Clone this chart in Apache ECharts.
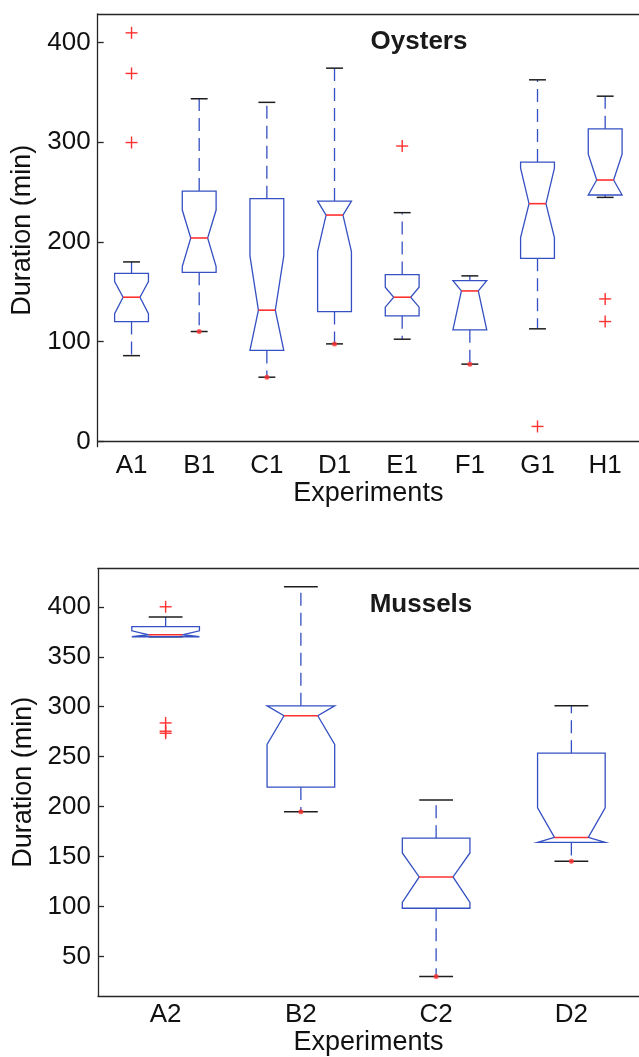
<!DOCTYPE html>
<html><head><meta charset="utf-8">
<script src="https://cdn.jsdelivr.net/npm/echarts@6/dist/echarts.min.js"></script>
<style>html,body{margin:0;padding:0;background:#fff}#c{width:639px;height:1057px}</style>
</head><body><div id="c"></div>
<script>
// ---- Data ----
const oysterCats = ['A1','B1','C1','D1','E1','F1','G1','H1'];
// each box: [lowerWhisker, Q1, notchLow, median, notchHigh, Q3, upperWhisker]
const oysterBoxes = [
  [86, 120.2, 128, 144.6, 160.3, 168.6, 180],
  [110.2, 169.6, 175.3, 204, 232, 251, 343.6],
  [64.4, 91.2, 91.2, 131.6, 186, 243.4, 340],
  [97.8, 130.2, 190.3, 227, 241, 241, 374.3],
  [102.5, 125.9, 134.6, 144.6, 154.6, 167.3, 229.4],
  [77.5, 111.9, 111.9, 150.9, 161.3, 161.3, 166],
  [112.9, 183.6, 204.3, 238.4, 274, 280.1, 362.6],
  [244.7, 247.1, 247.1, 262.1, 288.1, 313.5, 346.2]
];
const oysterOutliers = [[0,409.7],[0,369],[0,299.7],[4,296.2],[6,15],[7,142.9],[7,120.2]];
const oysterDots = [[1,110.2],[2,64.4],[3,97.8],[5,77.5]];
const oysterTicks = [0,100,200,300,400];

const musselCats = ['A2','B2','C2','D2'];
const musselBoxes = [
  [370, 370, 370, 372, 376, 380.2, 389.8],
  [194.9, 219.6, 262.4, 291, 300.9, 300.9, 420.1],
  [30.2, 98.4, 104.3, 129.7, 153.7, 168.5, 206.7],
  [145.5, 164.2, 164.2, 169.2, 198.8, 253.5, 300.9]
];
const musselOutliers = [[0,400],[0,283.8],[0,275.5],[0,273.5]];
const musselDots = [[1,194.9],[2,30.2],[3,145.5]];
const musselTicks = [50,100,150,200,250,300,350,400];

// ---- Styles ----
const FONT = '"Liberation Sans", Arial, sans-serif';
const AX = '#262626';
const BLUE = '#3550c2';
const RED = '#ff3030';

function boxRender(params, api) {
  const i = api.value(0);
  const band = api.size([1, 0])[0];
  const hw = band * 0.25, iw = band * 0.125, cw = band * 0.125;
  const x = api.coord([i, 0])[0];
  const y = v => api.coord([i, v])[1];
  const lw = api.value(1), q1 = api.value(2), nlo = api.value(3), med = api.value(4),
        nhi = api.value(5), q3 = api.value(6), uw = api.value(7);
  const dash = {stroke: BLUE, lineWidth: 1.3, lineDash: [13, 7], fill: null};
  const cap = {stroke: '#1e1e1e', lineWidth: 1.5};
  const children = [];
  if (uw > q3) children.push({type:'line', shape:{x1:x, y1:y(q3), x2:x, y2:y(uw)}, style: dash});
  if (lw < q1) children.push({type:'line', shape:{x1:x, y1:y(q1), x2:x, y2:y(lw)}, style: dash});
  children.push({type:'line', shape:{x1:x-cw, y1:y(uw), x2:x+cw, y2:y(uw)}, style: cap});
  children.push({type:'line', shape:{x1:x-cw, y1:y(lw), x2:x+cw, y2:y(lw)}, style: cap});
  children.push({type:'polygon', shape:{points:[
      [x-hw,y(q1)],[x-hw,y(nlo)],[x-iw,y(med)],[x-hw,y(nhi)],[x-hw,y(q3)],
      [x+hw,y(q3)],[x+hw,y(nhi)],[x+iw,y(med)],[x+hw,y(nlo)],[x+hw,y(q1)]]},
    style:{fill:null, stroke: BLUE, lineWidth: 1.3}});
  children.push({type:'line', shape:{x1:x-iw, y1:y(med), x2:x+iw, y2:y(med)}, style:{stroke: RED, lineWidth: 1.6}});
  return {type:'group', children};
}
function plusRender(params, api) {
  const p = api.coord([api.value(0), api.value(1)]);
  const s = 6;
  const st = {stroke: RED, lineWidth: 1.4};
  return {type:'group', children:[
    {type:'line', shape:{x1:p[0]-s, y1:p[1], x2:p[0]+s, y2:p[1]}, style: st},
    {type:'line', shape:{x1:p[0], y1:p[1]-s, x2:p[0], y2:p[1]+s}, style: st}
  ]};
}

function xAxes(cats, gi) {
  const line = {lineStyle:{color: AX, width: 1.3}};
  const tick = {inside:true, length:6, alignWithLabel:true, lineStyle:{color: AX, width: 1.3}};
  return [
    {type:'category', gridIndex: gi, data: cats, position:'bottom',
     axisLine: line, axisTick: tick, splitLine:{show:false},
     axisLabel:{color:'#111', fontSize:26, fontFamily: FONT, margin: 6},
     name:'Experiments', nameLocation:'middle', nameGap: 32,
     nameTextStyle:{color:'#111', fontSize:27, fontFamily: FONT}},
    {type:'category', gridIndex: gi, data: cats, position:'top',
     axisLine: line, axisTick: tick, axisLabel:{show:false}, splitLine:{show:false}}
  ];
}
function yAxis(gi, min, max, ticks) {
  return {type:'value', gridIndex: gi, min, max, position:'left',
    axisLine:{show:true, lineStyle:{color: AX, width: 1.3}},
    axisTick:{show:true, inside:true, length:6, customValues: ticks, lineStyle:{color: AX, width: 1.3}},
    axisLabel:{color:'#111', fontSize:26, fontFamily: FONT, margin: 7, customValues: ticks},
    splitLine:{show:false},
    name:'Duration (min)', nameLocation:'middle', nameGap: 58,
    nameTextStyle:{color:'#111', fontSize:27, fontFamily: FONT}};
}

const chart = echarts.init(document.getElementById('c'), null, {renderer:'canvas'});
chart.setOption({
  animation: false,
  backgroundColor: '#fff',
  grid: [
    {left: 97.7, top: 13.8, width: 550.4, height: 432.9},
    {left: 98, top: 568.3, width: 549.3, height: 433.4}
  ],
  xAxis: [...xAxes(oysterCats, 0), ...xAxes(musselCats, 1)],
  yAxis: [yAxis(0, -5.3, 428.8, oysterTicks), yAxis(1, 10.5, 438.5, musselTicks)],
  graphic: [
    {type:'text', x: 419, y: 42, style:{text:'Oysters', font:'bold 26px ' + FONT, fill:'#1a1a1a', align:'center', verticalAlign:'middle'}},
    {type:'text', x: 421, y: 605, style:{text:'Mussels', font:'bold 26px ' + FONT, fill:'#1a1a1a', align:'center', verticalAlign:'middle'}}
  ],
  series: [
    {type:'custom', xAxisIndex:0, yAxisIndex:0, renderItem: boxRender, data: oysterBoxes.map((b,i)=>[i, ...b]), z:2},
    {type:'custom', xAxisIndex:0, yAxisIndex:0, renderItem: plusRender, data: oysterOutliers, z:3},
    {type:'scatter', xAxisIndex:0, yAxisIndex:0, data: oysterDots, symbol:'circle', symbolSize:5, itemStyle:{color: RED}, z:4},
    {type:'custom', xAxisIndex:2, yAxisIndex:1, renderItem: boxRender, data: musselBoxes.map((b,i)=>[i, ...b]), z:2},
    {type:'custom', xAxisIndex:2, yAxisIndex:1, renderItem: plusRender, data: musselOutliers, z:3},
    {type:'scatter', xAxisIndex:2, yAxisIndex:1, data: musselDots, symbol:'circle', symbolSize:5, itemStyle:{color: RED}, z:4}
  ]
});
</script></body></html>
